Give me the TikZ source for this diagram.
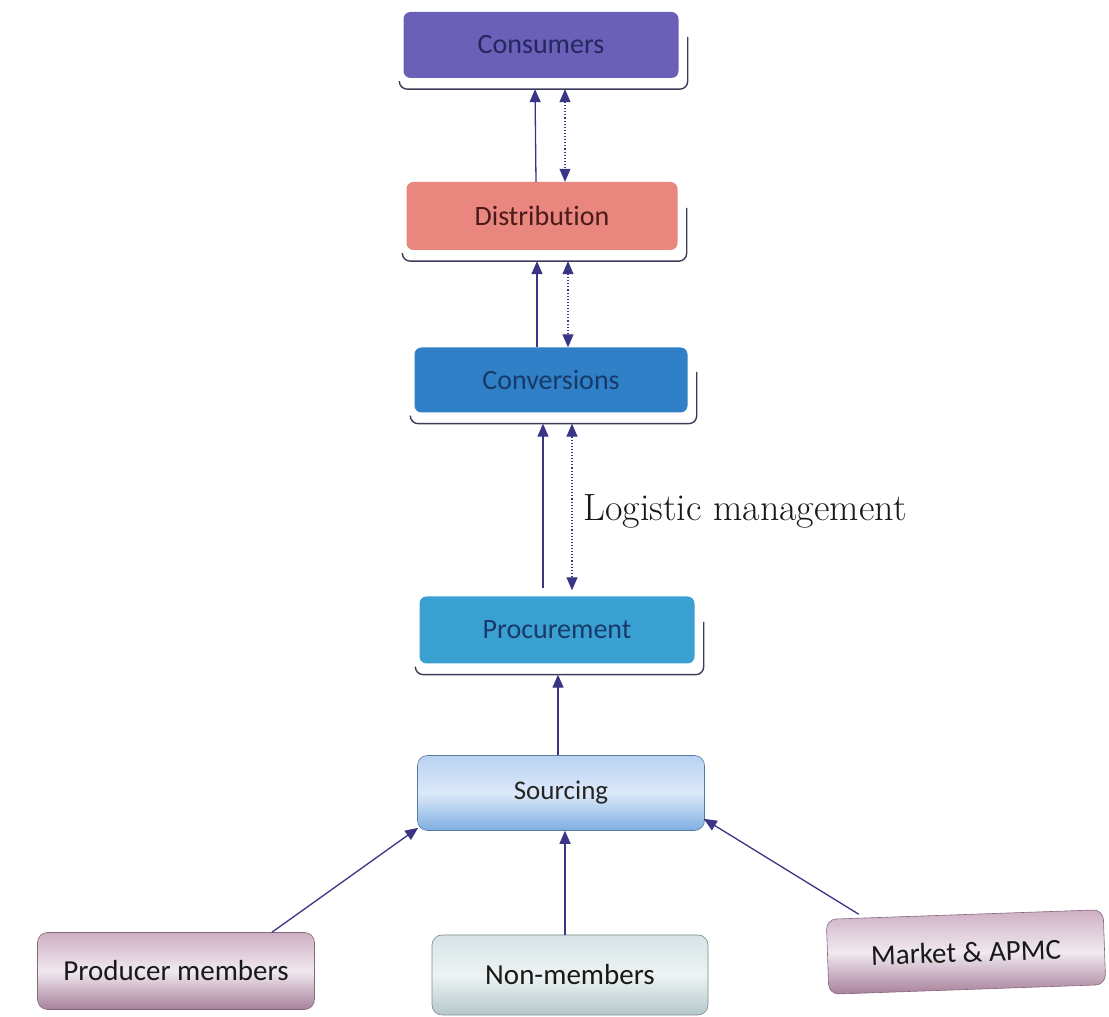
\documentclass[tikz,border=0pt]{standalone}
\usepackage{fontspec}
\newfontfamily\boxfont[Ligatures=NoCommon]{Carlito}
\usetikzlibrary{arrows.meta}
\definecolor{consC}{HTML}{6B60B8}
\definecolor{distC}{HTML}{E9877F}
\definecolor{convC}{HTML}{2F80C6}
\definecolor{procC}{HTML}{3AA0D2}
\definecolor{arrC}{HTML}{3A3585}
\definecolor{frameC}{HTML}{3C3C5A}
\definecolor{txtA}{HTML}{262660}
\definecolor{txtB}{HTML}{4A1A1A}
\definecolor{txtC}{HTML}{173A68}
\definecolor{srcTop}{HTML}{B9D2F2}
\definecolor{srcMid}{HTML}{DCE9F9}
\definecolor{srcBot}{HTML}{7FAEE2}
\definecolor{pmTop}{HTML}{CDAFC3}
\definecolor{pmMid}{HTML}{F0E9F0}
\definecolor{pmBot}{HTML}{A8809A}
\definecolor{nmTop}{HTML}{D6E3E6}
\definecolor{nmMid}{HTML}{EDF3F3}
\definecolor{nmBot}{HTML}{B4C8CB}
\begin{document}
\begin{tikzpicture}[x=1pt,y=1pt,
  topbox/.style={rounded corners=7, minimum width=275, minimum height=66, inner sep=0,
    font=\boxfont\fontsize{28}{32}\selectfont},
  lowbox/.style={rounded corners=10, minimum width=277, minimum height=77, inner sep=0,
    font=\boxfont\fontsize{29}{33}\selectfont, draw=gray!60, line width=0.6},
  pinkbox/.style={lowbox, top color=pmTop, bottom color=pmBot, middle color=pmMid, text=black!90, draw=pmBot!80!black},
  frameline/.style={draw=frameC, line width=1.4, rounded corners=8},
  solidarr/.style={draw=arrC, line width=1.3, -{Triangle[length=13,width=11]}},
  dotarr/.style={draw=arrC, line width=1.1, dotted, {Triangle[length=13,width=11]}-{Triangle[length=13,width=11]}},
  lbl/.style={font=\fontsize{38}{42}\selectfont, text=black!90}
]
\useasboundingbox (0,0) rectangle (1109,1017);
\fill[white] (0,0) rectangle (1109,1017);

% top boxes
\node[topbox, fill=consC, text=txtA] (cons) at (541,972) {Consumers};
\node[topbox, fill=distC, text=txtB, minimum width=271, minimum height=68] (dist) at (542,801) {Distribution};
\node[topbox, fill=convC, text=txtC, minimum width=273, minimum height=65] (conv) at (551,637) {Conversions};
\node[topbox, fill=procC, text=txtC, minimum height=67] (proc) at (557,387) {Procurement};

\foreach \n in {cons,dist,conv,proc}{
  \draw[frameline] ([shift={(9,8)}]\n.east) -- ([shift={(9,-11)}]\n.south east)
     -- ([shift={(-4,-11)}]\n.south west) -- ([shift={(-4,-4)}]\n.south west);
}

% sourcing
\node[lowbox, minimum width=287, minimum height=75, top color=srcTop, bottom color=srcBot, middle color=srcMid,
  draw=srcBot!70!black, text=black!85, font=\boxfont\fontsize{27}{31}\selectfont] (src) at (561,224) {Sourcing};

% bottom boxes
\node[pinkbox] (prod) at (176,46) {Producer members};
\node[lowbox, minimum width=276, minimum height=80, top color=nmTop, bottom color=nmBot, middle color=nmMid,
  draw=nmBot!70!black, text=black!90] (non) at (570,42) {Non-members};
\node[pinkbox, minimum height=75, rotate=2] (mkt) at (966,65) {Market \& APMC};

% connectors between top boxes
\draw[solidarr] ([xshift=-6]dist.north) -- ([shift={(-6,-11)}]cons.south);
\draw[dotarr] ([shift={(24,-11)}]cons.south) -- ([xshift=23]dist.north);
\draw[solidarr] ([xshift=-14]conv.north) -- ([shift={(-5,-11)}]dist.south);
\draw[dotarr] ([shift={(26,-11)}]dist.south) -- ([xshift=17]conv.north);
\draw[solidarr] ([shift={(-14,8)}]proc.north) -- ([shift={(-8,-11)}]conv.south);
\draw[dotarr] ([shift={(21,-11)}]conv.south) -- ([shift={(15,6)}]proc.north);
\draw[solidarr] ([xshift=-3]src.north) -- ([shift={(1,-11)}]proc.south);

\node[lbl, anchor=west] (logi) at (580,506) {Logistic management};

% connectors into sourcing
\draw[solidarr] ([xshift=96]prod.north) -- ([shift={(1,3)}]src.south west);
\draw[solidarr] ([xshift=-5]non.north) -- ([xshift=4]src.south);
\draw[solidarr] ([xshift=-106]mkt.north) -- ([shift={(-1,12)}]src.south east);
\end{tikzpicture}
\end{document}
